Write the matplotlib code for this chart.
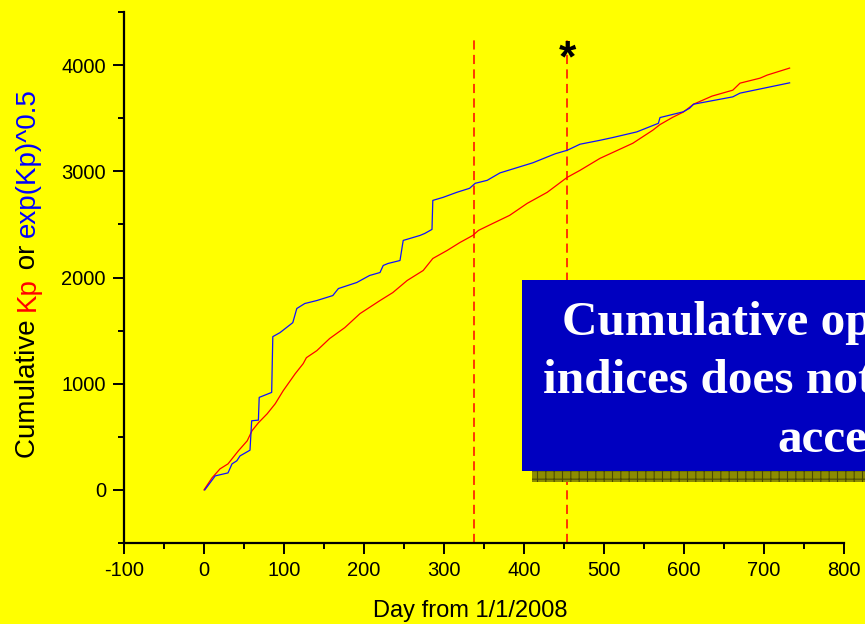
import matplotlib
matplotlib.use("Agg")
import matplotlib.pyplot as plt
from matplotlib.patches import Rectangle
from matplotlib.ticker import MultipleLocator

# ---- data ----
kp_day = [0, 10, 20, 30, 36, 43, 54, 60, 68, 79, 89, 99, 114, 124, 128, 141, 157, 176,
          195, 220, 236, 254, 274, 286, 304, 320, 336, 343, 361, 382, 404, 429, 454,
          470, 495, 536, 561, 570, 586, 599, 612, 635, 661, 670, 695, 704, 732]
kp_cum = [0, 113, 198, 245, 302, 368, 462, 557, 632, 717, 811, 934, 1094, 1189, 1245,
          1311, 1425, 1528, 1660, 1783, 1858, 1972, 2066, 2179, 2255, 2330, 2396, 2443,
          2509, 2585, 2698, 2802, 2943, 3009, 3122, 3264, 3387, 3440, 3509, 3557, 3632,
          3708, 3764, 3830, 3877, 3906, 3972]

ekp_day = [1, 7.5, 14, 30, 35, 41, 45, 57.5, 59.6, 68, 69, 84.6, 86, 95, 111, 116, 126,
           141, 161, 168, 191, 207, 220, 224, 230, 245, 249, 270, 276, 285, 286, 299, 316,
           332, 339, 354, 370, 411, 439, 454, 470, 495, 511, 541, 568, 570, 599, 607, 612,
           661, 670, 732]
ekp_cum = [0, 66, 132, 160, 245, 274, 320, 374, 651, 657, 871, 918, 1443, 1481, 1575,
           1708, 1755, 1783, 1830, 1896, 1953, 2019, 2047, 2113, 2132, 2160, 2349, 2396,
           2415, 2453, 2726, 2755, 2802, 2840, 2887, 2915, 2985, 3080, 3165, 3198, 3255,
           3292, 3318, 3371, 3452, 3506, 3560, 3594, 3632, 3701, 3736, 3833]

event_days = [338, 454]
event_top = 4255
x_label = "Day from 1/1/2008"
y_label_parts = [("Cumulative ", "black"), ("Kp", "red"), (" or ", "black"),
                 ("exp(Kp)^0.5", "blue")]
box_lines = ["Cumulative open flux and", "indices does not show any", "acceleration"]

# ---- figure ----
plt.rcParams['font.family'] = ['Liberation Sans', 'DejaVu Sans']
plt.rcParams['axes.unicode_minus'] = False
plt.rcParams['hatch.linewidth'] = 0.8
YEL = '#ffff00'
fig = plt.figure(figsize=(8.65, 6.24), dpi=100, facecolor=YEL)
ax = fig.add_axes([124/865, 1-543/624, (844-124)/865, (543-12)/624])
ax.set_facecolor(YEL)

ax.plot(kp_day, kp_cum, color='#ff0000', lw=0.9, zorder=3)
ax.plot(ekp_day, ekp_cum, color='#1010ff', lw=0.9, zorder=3)
for d in event_days:
    ax.plot([d, d], [-500, event_top], color='#ff0000', lw=1.1,
            dashes=(6, 3.5), zorder=2)
ax.text(event_days[1], 3945, '*', fontsize=32, fontweight='bold', ha='center',
        va='baseline', color='black', zorder=4)

ax.set_xlim(-100, 800)
ax.set_ylim(-500, 4500)
ax.xaxis.set_major_locator(MultipleLocator(100))
ax.xaxis.set_minor_locator(MultipleLocator(50))
ax.yaxis.set_major_locator(MultipleLocator(1000))
ax.yaxis.set_minor_locator(MultipleLocator(500))
for s in ['top', 'right']:
    ax.spines[s].set_visible(False)
for s in ['left', 'bottom']:
    ax.spines[s].set_linewidth(1.6)
ax.tick_params(which='major', direction='out', length=8, width=1.4, labelsize=14.5, pad=5)
ax.tick_params(which='minor', direction='out', length=4.5, width=1.4)
ax.set_xlabel(x_label, fontsize=17, labelpad=12)
ax.xaxis.set_label_coords((470-124)/720, -0.108)

# multi-coloured y label
fig.canvas.draw()
renderer = fig.canvas.get_renderer()
texts = []
for s, c in y_label_parts:
    t = fig.text(0, 0, s, rotation=90, rotation_mode='anchor', ha='left',
                 va='baseline', fontsize=20, color=c)
    texts.append(t)
lengths = []
for t in texts:
    bb = t.get_window_extent(renderer)
    lengths.append(bb.height)
total = sum(lengths)
ypix = (624 - 273) - total/2
xbase = 35/865
for t, L in zip(texts, lengths):
    t.set_position((xbase, ypix/624))
    ypix += L

# blue box with shadow
fig.patches.append(Rectangle((532/865, 1-482/624), 0.6, 191/624, transform=fig.transFigure,
                             facecolor='#8c8c00', edgecolor='#4a4a00', hatch='++',
                             lw=0, zorder=5))
fig.patches.append(Rectangle((522/865, 1-471/624), 0.6, 191/624, transform=fig.transFigure,
                             facecolor='#0000c0', edgecolor='none', zorder=6))
box_x = [562, 543, 777]
box_y = [335, 393, 452]
for s, bx, by in zip(box_lines, box_x, box_y):
    fig.text(bx/865, 1-by/624, s, color='white', fontsize=35.5, fontweight='bold',
             family=['Liberation Serif', 'DejaVu Serif'], ha='left', va='baseline',
             zorder=7)

fig.savefig('out.png', dpi=100, facecolor=YEL)
